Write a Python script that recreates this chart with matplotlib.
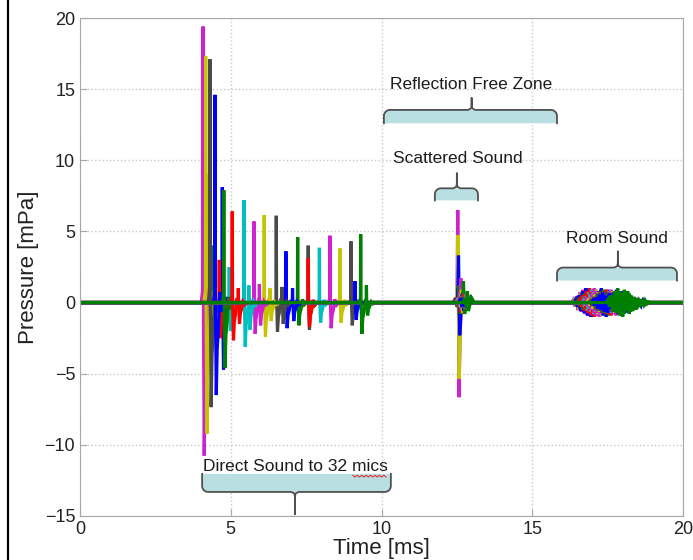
import numpy as np
import matplotlib
matplotlib.use("Agg")
import matplotlib.pyplot as plt
from matplotlib.lines import Line2D

plt.rcParams['font.family'] = ['Liberation Sans', 'DejaVu Sans']

# direct sound arrival per mic [ms], positive and negative peak [mPa]
arrival = [4.19, 7.57, 4.72, 4.35, 4.62, 4.95, 4.08, 4.17, 4.31, 4.48, 4.77, 5.05, 5.44, 5.77, 6.11, 6.51,
           6.83, 7.22, 7.57, 7.94, 8.29, 8.62, 8.99, 9.12, 9.50, 5.25, 5.60, 5.95, 6.30, 6.70, 7.05, 9.31]
direct_pos = [9.0, 4.0, 8.1, 4.0, 3.0, 2.5, 19.4, 17.3, 17.1, 14.6, 7.9, 6.4, 7.2, 5.7, 6.15, 6.1,
              3.6, 4.6, 3.1, 3.85, 4.7, 3.8, 4.3, 1.5, 1.2, 1.0, 1.2, 1.3, 1.0, 1.1, 1.0, 4.8]
direct_neg = [-5.0, -1.9, -4.7, -3.0, -2.5, -2.0, -10.75, -9.2, -7.35, -6.5, -4.6, -2.65, -3.1, -2.2, -2.4, -2.05,
              -1.8, -1.6, -1.7, -1.4, -1.8, -1.4, -1.6, -1.2, -0.9, -1.5, -1.9, -1.6, -1.3, -1.5, -1.3, -2.2]
# scattered sound peaks [mPa]
scat_pos = [0.6, 0.5, 0.8, 0.7, 0.5, 0.6, 6.5, 4.75, 1.0, 3.3, 1.2, 0.8, 0.7, 1.7, 0.9, 0.6,
            0.7, 1.5, 0.6, 0.5, 0.6, 0.5, 0.6, 0.4, 0.5, 0.4, 0.4, 0.4, 0.3, 0.4, 0.3, 0.8]
scat_neg = [-0.5, -0.4, -0.6, -0.8, -0.5, -0.4, -6.65, -5.35, -0.9, -2.3, -0.8, -0.7, -0.5, -0.6, -0.7, -0.5,
            -0.6, -0.8, -0.4, -0.4, -0.4, -0.3, -0.4, -0.3, -0.4, -0.3, -0.3, -0.3, -0.3, -0.3, -0.3, -0.6]
# room sound level per mic
room_amp = [0.7, 0.8, 1.0, 0.8, 0.9, 0.8, 0.9, 0.8, 0.7, 1.0, 0.8, 1.0, 0.9, 1.0, 0.9, 0.8,
            1.0, 0.9, 0.9, 0.8, 0.9, 0.8, 0.7, 0.9, 0.8, 0.7, 0.7, 0.8, 0.7, 0.8, 0.7, 1.0]
room_shape = [0, 0.2, -0.3, 0.5, -0.6, 0.8, -0.7, 1.0, -0.9, 0.7, -1.0, 0.9, -0.6, 0.8, -0.8,
              0.5, -0.6, 0.4, -0.5, 0.3, -0.3, 0.2, -0.2, 0.15, -0.1, 0.05, 0]

# annotation braces
zone_text = ["Reflection Free Zone", "Scattered Sound", "Room Sound", "Direct Sound to 32 mics"]
zone_x0 = [10.08, 11.77, 15.82, 4.05]
zone_x1 = [15.82, 13.20, 19.80, 10.31]
zone_mid = [12.99, 12.50, 17.84, 7.13]
zone_line = [13.54, 8.03, 2.46, -13.31]
zone_open = [12.60, 7.18, 1.55, -12.04]
zone_tip = [14.37, 9.08, 3.59, -14.86]
zone_tx = [12.97, 12.54, 17.80, 7.13]
zone_ty = [15.35, 10.14, 4.50, -11.55]

colors = ['#c4c400', '#4a4a4a', '#0000ff', '#008000', '#ff0000', '#00bfbf', '#d020d0']

fig = plt.figure(figsize=(6.93, 5.6), dpi=100)
ax = fig.add_axes([80/693, 44/560, 603/693, 498/560])

pdt = np.array([-0.06, -0.01, 0.0, 0.01, 0.04, 0.07, 0.11, 0.16, 0.22, 0.30])
sdt = np.array([-0.15, -0.08, -0.03, 0.0, 0.02, 0.04, 0.08, 0.14, 0.22])

for i in range(len(arrival)):
    t0 = arrival[i]
    p, n = direct_pos[i], direct_neg[i]
    pv = [0, 0.05*p, p, 0.05*p, n, 0.5*n, 0.3*n, 0.05*p, 0.1*n, 0]
    ts = 12.53 + 0.06*(t0 - 4.08)
    sp, sn = scat_pos[i], scat_neg[i]
    sv = [0, 0.3, -0.3, sp, 0.1*sp, sn, 0.3*sn, 0.3, 0]
    tr = 16.3 + 0.22*(t0 - 4.08)
    rt = tr + 0.055*np.arange(len(room_shape))
    rv = room_amp[i]*np.array(room_shape)
    t = np.concatenate([[0], t0 + pdt, ts + sdt, rt, [20]])
    v = np.concatenate([[0], pv, sv, rv, [0]])
    ax.plot(t, v, color=colors[i % 7], lw=2.3, solid_joinstyle='miter')


def brace(x0, x1, xm, yl, yo, yt):
    s = 1 if yt > yl else -1
    rx, ry = 0.2, 0.42*s
    a = np.linspace(0, np.pi/2, 8)
    left = [(x0, yo), (x0, yl - ry)] + [(x0 + rx - rx*np.cos(k), yl - ry + ry*np.sin(k)) for k in a]
    right = [(x1 - rx + rx*np.sin(k), yl - ry + ry*np.cos(k)) for k in a] + [(x1, yo)]
    box = left + right
    ax.fill([q[0] for q in box], [q[1] for q in box], color='#b9dfe3', zorder=5, lw=0)
    nrx, nry = 0.12, 0.35*s
    notch = [(xm - nrx, yl), (xm - 0.02, yl + 0.3*nry), (xm, yl + nry), (xm, yt),
             (xm, yl + nry), (xm + 0.02, yl + 0.3*nry), (xm + nrx, yl)]
    path = left + notch + right
    ax.plot([q[0] for q in path], [q[1] for q in path], color='#505050', lw=1.3, zorder=6)


for k in range(len(zone_text)):
    brace(zone_x0[k], zone_x1[k], zone_mid[k], zone_line[k], zone_open[k], zone_tip[k])
    ax.text(zone_tx[k], zone_ty[k], zone_text[k], ha='center', va='center', fontsize=12.5,
            color='#1c1c1c', zorder=7)

# spell-check squiggle under "mics"
sx = np.linspace(9.05, 10.15, 16)
sy = -12.2 + 0.06*np.array([1, -1]*8)
ax.plot(sx, sy, color='#e03030', lw=0.8, zorder=7)

ax.set_xlim(0, 20)
ax.set_ylim(-15, 20)
ax.set_xticks([0, 5, 10, 15, 20])
ax.set_yticks([-15, -10, -5, 0, 5, 10, 15, 20])
ax.grid(True, linestyle=':', color='#c8c8c8', lw=1)
ax.set_axisbelow(True)
for sp_ in ax.spines.values():
    sp_.set_color('#a8a8a8')
ax.tick_params(direction='in', colors='#a8a8a8', labelcolor='#222222', labelsize=13, length=5)
ax.set_xlabel('Time [ms]', fontsize=16, color='#222222', labelpad=0)
ax.set_ylabel('Pressure [mPa]', fontsize=16, color='#222222', labelpad=4)

fig.add_artist(Line2D([8/693, 8/693], [0, 1], color='black', lw=1.6, transform=fig.transFigure))

fig.savefig('out.png', dpi=100)
